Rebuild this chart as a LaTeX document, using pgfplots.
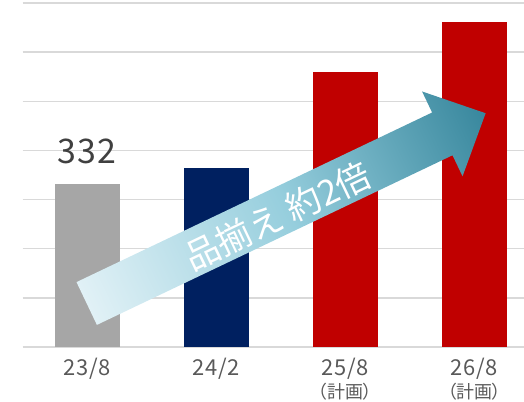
\documentclass[border=0pt]{standalone}
\usepackage{fontspec}
\setmainfont{Noto Sans CJK JP}
\newfontfamily\paltfont{Noto Sans CJK JP}[RawFeature=+palt]
\usepackage{pgfplots}
\pgfplotsset{compat=1.18}
\definecolor{bargray}{HTML}{A6A6A6}
\definecolor{barnavy}{HTML}{002060}
\definecolor{barred}{HTML}{C00000}
\definecolor{gridgray}{HTML}{D9D9D9}
\definecolor{ticktext}{HTML}{595959}
\definecolor{labtext}{HTML}{404040}
\definecolor{arrowL}{RGB}{225,241,246}
\definecolor{arrowM}{RGB}{150,206,221}
\definecolor{arrowR}{RGB}{56,135,157}
\begin{document}
\begin{tikzpicture}[x=1bp,y=1bp]
\begin{axis}[
  at={(22.7bp,54bp)}, anchor=south west,
  scale only axis, width=501.3bp, height=344bp,
  xmin=-0.5, xmax=3.386, ymin=0, ymax=700,
  axis line style={draw=none},
  /pgf/number format/assume math mode=true,
  ytick={100,200,...,700}, yticklabels={},
  ymajorgrids, grid style={gridgray, line width=1.5bp},
  major tick length=0pt,
  xtick={0,1,2,3},
  xticklabels={23/8,24/2,{25/8\\{\paltfont\fontsize{18}{18}\selectfont （計画）}},{26/8\\{\paltfont\fontsize{18}{18}\selectfont （計画）}}},
  xticklabel style={align=center, anchor=north, text=ticktext, font=\fontsize{22}{23}\selectfont\addfontfeature{LetterSpace=3}, yshift=-8bp},
  clip=false,
]
\draw[gridgray, line width=2bp] (rel axis cs:0,0) -- (rel axis cs:1,0);
\addplot[ybar, bar shift=0pt, bar width=65bp, fill=bargray, draw=none,
  nodes near coords, every node near coord/.style={anchor=base, yshift=20bp, text=labtext, font=\fontsize{34}{34}\selectfont\addfontfeature{LetterSpace=3}}]
  coordinates {(0,332)};
\addplot[ybar, bar shift=0pt, bar width=65bp, fill=barnavy, draw=none] coordinates {(1,365)};
\addplot[ybar, bar shift=0pt, bar width=65bp, fill=barred, draw=none] coordinates {(2,560)};
\addplot[ybar, bar shift=0pt, bar width=65bp, fill=barred, draw=none] coordinates {(3,662)};
\end{axis}
\begin{scope}[transform canvas={shift={(86.7bp,97.5bp)}, rotate=25.5}]
\shade[left color=arrowL, right color=arrowR, middle color=arrowM]
  (0,-23.7) -- (394,-23.7) -- (394,-47) -- (442,0) -- (394,47) -- (394,23.7) -- (0,23.7) -- cycle;
\node[text=white, font=\fontsize{35}{35}\selectfont, inner sep=0pt] at (210,-2.9) {品揃え 約2倍};
\end{scope}
\pgfresetboundingbox
\path[use as bounding box] (0,0) rectangle (524,401);
\end{tikzpicture}
\end{document}
